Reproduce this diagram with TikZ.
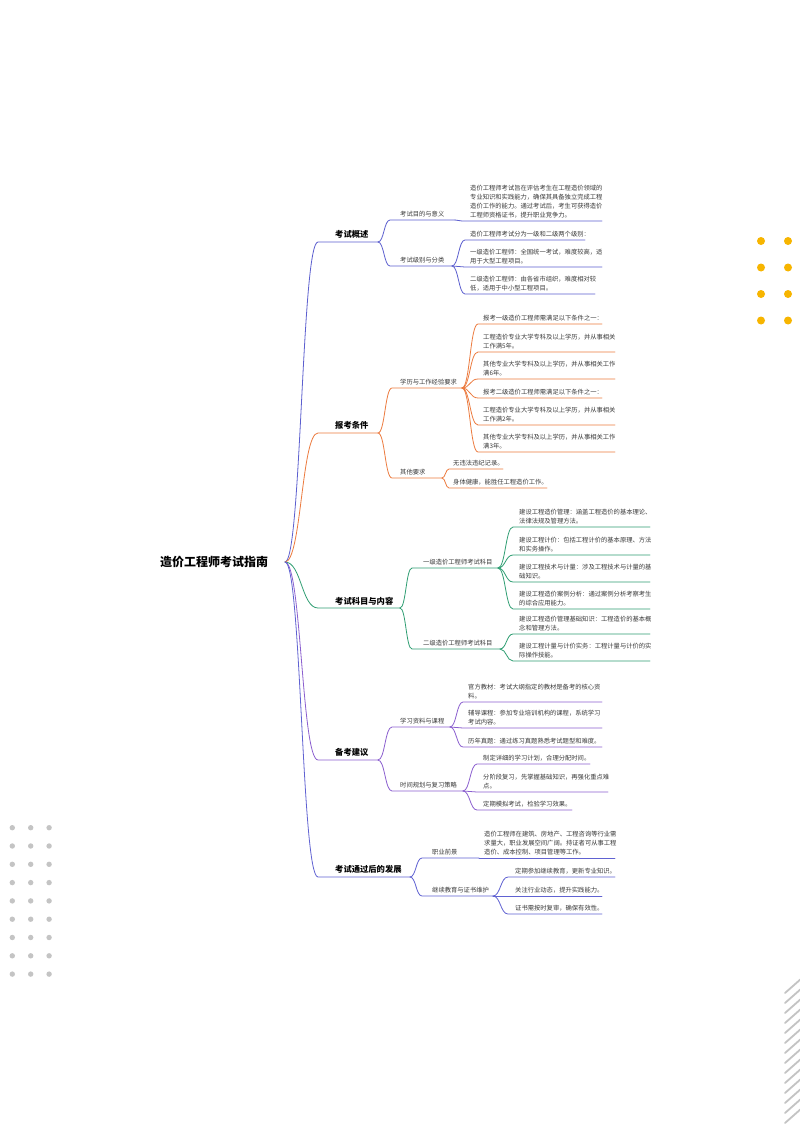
\documentclass[tikz,border=0pt]{standalone}
\usepackage{fontspec}
\setmainfont{Noto Sans CJK SC}
\usetikzlibrary{calc}
\definecolor{cA}{HTML}{5C5FCF}
\definecolor{cB}{HTML}{EC7A3E}
\definecolor{cC}{HTML}{2F9E72}
\definecolor{cD}{HTML}{8B5FCF}
\definecolor{cE}{HTML}{6062D2}
\definecolor{txt}{HTML}{3A3A3A}
\definecolor{dotY}{HTML}{F7B500}
\definecolor{dotG}{HTML}{C4C4C4}
\tikzset{
  mm/.style={to path={let \p1=(\tikztostart), \p2=(\tikztotarget) in
     .. controls ({0.5*\x1+0.5*\x2},\y1) and ({0.5*\x1+0.5*\x2},\y2) .. (\tikztotarget)}},
  conn/.style={line width=0.8pt, line cap=round},
  leaf/.style={anchor=south west, inner sep=0pt, align=left, text=txt,
     font=\fontsize{6.3}{9}\selectfont},
  sublab/.style={anchor=south west, inner sep=0pt, text=txt,
     font=\fontsize{6.3}{9}\selectfont},
  mainlab/.style={anchor=south west, inner sep=0pt, text=black,
     font=\bfseries\fontsize{8.3}{10}\selectfont},
  rootlab/.style={inner sep=0pt, text=black, font=\bfseries\fontsize{12}{14}\selectfont},
}
% #1 name, #2 parent coordinate, #3 colour, #4 x start, #5 x end, #6 y, #7 text style, #8 text dx, #9 text
\newcommand\mmbranch[9]{%
  \coordinate (#1s) at (#4,#6);
  \coordinate (#1e) at (#5,#6);
  \draw[conn,#3] (#2) to[mm] (#1s) -- (#1e);
  \node[#7] (#1t) at ($(#1s)+(#8,-3)$) {#9};
}
\begin{document}
\begin{tikzpicture}[x=1pt,y=-1pt]
\useasboundingbox[fill=white] (0,0) rectangle (800,1132);

% decorations
\foreach \i in {0,1}{\foreach \j in {0,...,3}{
  \fill[dotY] ({761+27*\i},{241+26.5*\j}) circle (4);}}
\foreach \i in {0,1,2}{\foreach \j in {0,...,8}{
  \fill[dotG] ({12.3+18.4*\i},{827.7+18.3*\j}) circle (2.7);}}
\begin{scope}
\clip (780,970) rectangle (800,1132);
\foreach \k in {0,...,13}{
  \draw[dotG, line width=1.8pt, line cap=round] (785,{993+10*\k}) -- (802,{978+10*\k});}
\end{scope}

% root
\node[rootlab] (root) at (214,562) {造价工程师考试指南};
\coordinate (R) at (285,562);

% ---------- section 1
\mmbranch{m1}{R}{cA}{318}{378}{242}{mainlab}{17}{考试概述}
\mmbranch{a1}{m1e}{cA}{390}{455}{220}{sublab}{10}{考试目的与意义}
\mmbranch{a1l}{a1e}{cA}{462}{602}{221}{leaf}{8}{造价工程师考试旨在评估考生在工程造价领域的\\专业知识和实践能力，确保其具备独立完成工程\\造价工作的能力。通过考试后，考生可获得造价\\工程师资格证书，提升职业竞争力。}
\mmbranch{b1}{m1e}{cA}{390}{452}{266}{sublab}{10}{考试级别与分类}
\mmbranch{b1a}{b1e}{cA}{465}{585}{240}{leaf}{5}{造价工程师考试分为一级和二级两个级别：}
\mmbranch{b1b}{b1e}{cA}{465}{602}{267}{leaf}{5}{一级造价工程师：全国统一考试，难度较高，适\\用于大型工程项目。}
\mmbranch{b1c}{b1e}{cA}{465}{595}{294}{leaf}{5}{二级造价工程师：由各省市组织，难度相对较\\低，适用于中小型工程项目。}

% ---------- section 2
\mmbranch{m2}{R}{cB}{318}{378}{433}{mainlab}{17}{报考条件}
\mmbranch{a2}{m2e}{cB}{392}{462}{388}{sublab}{8}{学历与工作经验要求}
\mmbranch{a2a}{a2e}{cB}{478}{602}{324}{leaf}{5}{报考一级造价工程师需满足以下条件之一：}
\mmbranch{a2b}{a2e}{cB}{478}{615}{352}{leaf}{5}{工程造价专业大学专科及以上学历，并从事相关\\工作满5年。}
\mmbranch{a2c}{a2e}{cB}{478}{615}{379}{leaf}{5}{其他专业大学专科及以上学历，并从事相关工作\\满6年。}
\mmbranch{a2d}{a2e}{cB}{478}{602}{398}{leaf}{5}{报考二级造价工程师需满足以下条件之一：}
\mmbranch{a2f}{a2e}{cB}{478}{615}{425}{leaf}{5}{工程造价专业大学专科及以上学历，并从事相关\\工作满2年。}
\mmbranch{a2g}{a2e}{cB}{478}{615}{452}{leaf}{5}{其他专业大学专科及以上学历，并从事相关工作\\满3年。}
\mmbranch{b2}{m2e}{cB}{392}{442}{478}{sublab}{8}{其他要求}
\mmbranch{b2a}{b2e}{cB}{449}{503}{469}{leaf}{4}{无违法违纪记录。}
\mmbranch{b2b}{b2e}{cB}{449}{547}{488}{leaf}{4}{身体健康，能胜任工程造价工作。}

% ---------- section 3
\mmbranch{m3}{R}{cC}{318}{400}{608}{mainlab}{17}{考试科目与内容}
\mmbranch{a3}{m3e}{cC}{412}{498}{568}{sublab}{11}{一级造价工程师考试科目}
\mmbranch{a3a}{a3e}{cC}{513}{650}{527}{leaf}{6}{建设工程造价管理：涵盖工程造价的基本理论、\\法律法规及管理方法。}
\mmbranch{a3b}{a3e}{cC}{513}{650}{555}{leaf}{6}{建设工程计价：包括工程计价的基本原理、方法\\和实务操作。}
\mmbranch{a3c}{a3e}{cC}{513}{650}{582}{leaf}{6}{建设工程技术与计量：涉及工程技术与计量的基\\础知识。}
\mmbranch{a3d}{a3e}{cC}{513}{650}{609}{leaf}{6}{建设工程造价案例分析：通过案例分析考察考生\\的综合应用能力。}
\mmbranch{b3}{m3e}{cC}{412}{500}{649}{sublab}{11}{二级造价工程师考试科目}
\mmbranch{b3a}{b3e}{cC}{513}{650}{634}{leaf}{6}{建设工程造价管理基础知识：工程造价的基本概\\念和管理方法。}
\mmbranch{b3b}{b3e}{cC}{513}{650}{661}{leaf}{6}{建设工程计量与计价实务：工程计量与计价的实\\际操作技能。}

% ---------- section 4
\mmbranch{m4}{R}{cD}{318}{378}{760}{mainlab}{17}{备考建议}
\mmbranch{a4}{m4e}{cD}{392}{450}{727}{sublab}{8}{学习资料与课程}
\mmbranch{a4a}{a4e}{cD}{463}{602}{702}{leaf}{5}{官方教材：考试大纲指定的教材是备考的核心资\\料。}
\mmbranch{a4b}{a4e}{cD}{463}{602}{728}{leaf}{5}{辅导课程：参加专业培训机构的课程，系统学习\\考试内容。}
\mmbranch{a4c}{a4e}{cD}{463}{602}{747}{leaf}{5}{历年真题：通过练习真题熟悉考试题型和难度。}
\mmbranch{b4}{m4e}{cD}{392}{463}{791}{sublab}{8}{时间规划与复习策略}
\mmbranch{b4a}{b4e}{cD}{477}{590}{764}{leaf}{6}{制定详细的学习计划，合理分配时间。}
\mmbranch{b4b}{b4e}{cD}{477}{608}{792}{leaf}{6}{分阶段复习，先掌握基础知识，再强化重点难\\点。}
\mmbranch{b4c}{b4e}{cD}{477}{572}{810}{leaf}{6}{定期模拟考试，检验学习效果。}

% ---------- section 5
\mmbranch{m5}{R}{cE}{318}{410}{877}{mainlab}{17}{考试通过后的发展}
\mmbranch{a5}{m5e}{cE}{422}{479}{858}{sublab}{10}{职业前景}
\mmbranch{a5a}{a5e}{cE}{479}{615}{858}{leaf}{5}{造价工程师在建筑、房地产、工程咨询等行业需\\求量大，职业发展空间广阔。持证者可从事工程\\造价、成本控制、项目管理等工作。}
\mmbranch{b5}{m5e}{cE}{422}{493}{896}{sublab}{10}{继续教育与证书维护}
\mmbranch{b5a}{b5e}{cE}{508}{615}{877}{leaf}{7}{定期参加继续教育，更新专业知识。}
\mmbranch{b5b}{b5e}{cE}{508}{602}{896}{leaf}{7}{关注行业动态，提升实践能力。}
\mmbranch{b5c}{b5e}{cE}{508}{602}{914}{leaf}{7}{证书需按时复审，确保有效性。}
\end{tikzpicture}
\end{document}
